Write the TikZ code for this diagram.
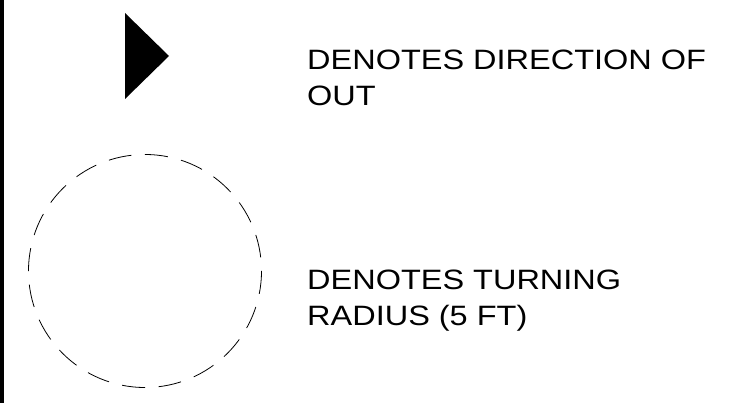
\documentclass[tikz,border=0pt]{standalone}
\usepackage{fontspec}
\setmainfont{Liberation Sans}
\newfontfamily\notefont[FakeStretch=1.16]{Liberation Sans}

\begin{document}
\begin{tikzpicture}[
      x=1pt, y=-1pt,
      note/.style={anchor=base west, inner sep=0pt, align=left,
        font=\notefont\fontsize{28}{36.5}\selectfont},
      radius line/.style={line width=0.8pt, dash pattern=on 23pt off 13.6pt}
  ]

  \useasboundingbox (0,0) rectangle (751,403);
  \fill[black] (0,0) rectangle (4,403);

  % direction symbol
  \fill[black] (125,13) -- (169,56) -- (125,99) -- cycle;
  \node [note] (direction) at (307,105.7) {DENOTES DIRECTION OF\\OUT};

  % turning radius symbol
  \draw [radius line] (145,271) circle [radius=116.5];
  \node [note] (turning) at (307,325.7) {DENOTES TURNING\\RADIUS (5 FT)};

\end{tikzpicture}
\end{document}
